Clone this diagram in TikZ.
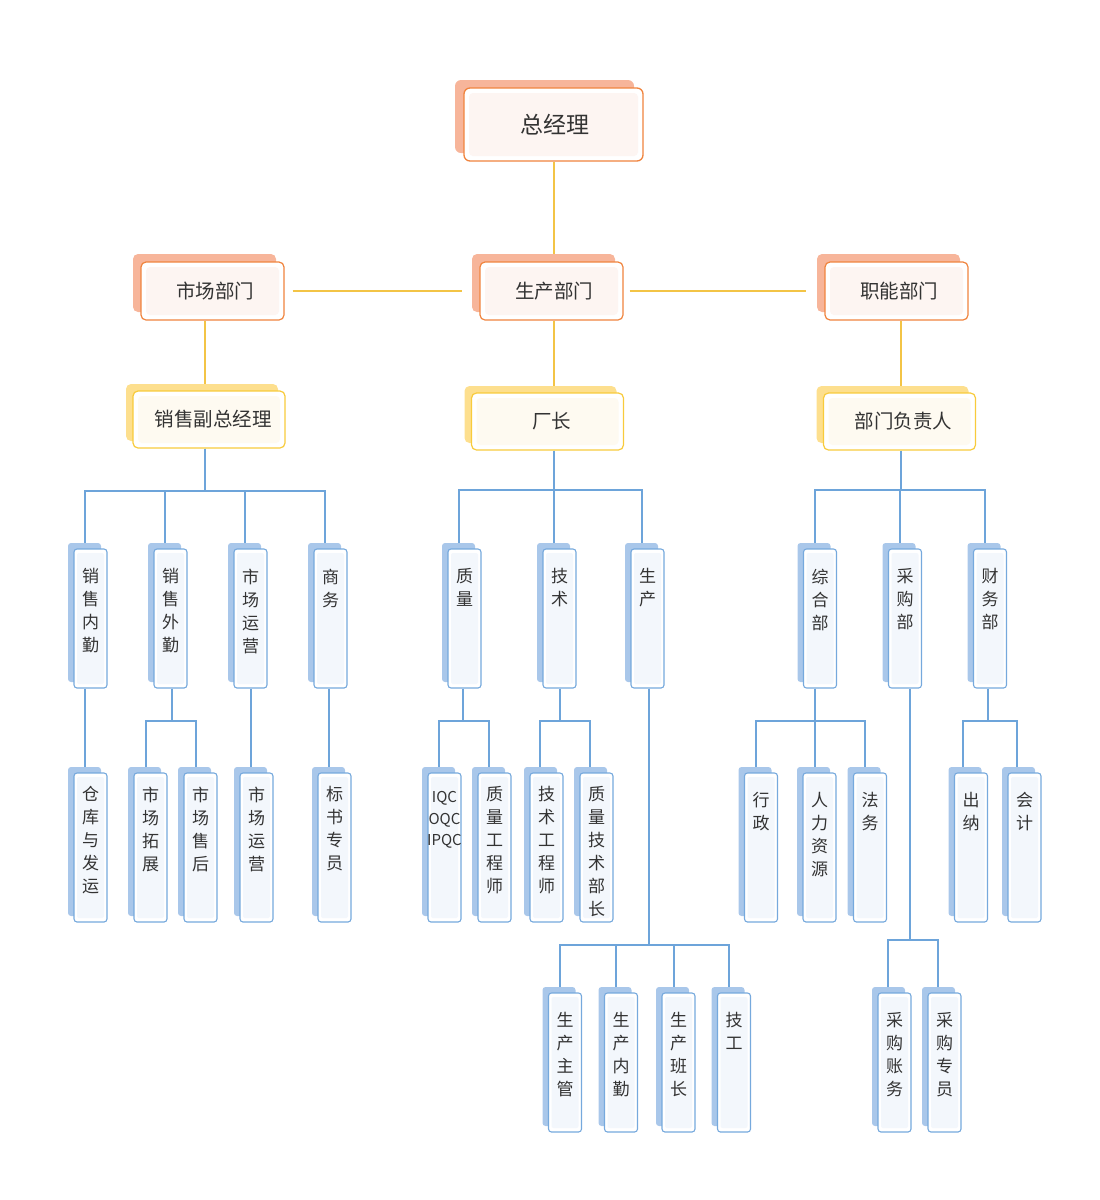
\documentclass[tikz,border=0pt]{standalone}
\usepackage{fontspec}
\setmainfont{Noto Sans CJK SC}
\usepackage{tikz}
\usetikzlibrary{shadows, positioning}
\usepackage{xcolor}

\definecolor{oline}{HTML}{F0843E}
\definecolor{oshade}{HTML}{F7B59A}
\definecolor{ofill}{HTML}{FDF5F2}
\definecolor{yline}{HTML}{F8CB3C}
\definecolor{yshade}{HTML}{FDDF8E}
\definecolor{yfill}{HTML}{FEFAF1}
\definecolor{bline}{HTML}{76A9DD}
\definecolor{bshade}{HTML}{A9C7EA}
\definecolor{bfill}{HTML}{F3F7FC}
\definecolor{goldcon}{HTML}{F3C446}
\definecolor{bluecon}{HTML}{6DA4DA}
\definecolor{txt}{HTML}{333333}

\pgfdeclarelayer{background}
\pgfsetlayers{background,main}

\begin{document}
\begin{tikzpicture}[x=1pt,y=-1pt]
    \tikzstyle{boss}=[shape=rectangle,rounded corners=6pt,draw=oline,line width=1.3pt,fill=white,
        minimum width=179pt,minimum height=73pt,text=txt,font=\fontsize{23pt}{28pt}\selectfont,
        execute at begin node=\hspace*{3pt},
        drop shadow={shadow xshift=-9pt,shadow yshift=8pt,fill=oshade,opacity=1},
        path picture={\fill[ofill,rounded corners=4pt] ([xshift=5pt,yshift=-5pt]path picture bounding box.north west) rectangle ([xshift=-5pt,yshift=5pt]path picture bounding box.south east);}]
    \tikzstyle{dept}=[shape=rectangle,rounded corners=5pt,draw=oline,line width=1.2pt,fill=white,
        minimum width=143pt,minimum height=58pt,text=txt,font=\fontsize{19.5pt}{24pt}\selectfont,
        execute at begin node=\hspace*{5pt},
        drop shadow={shadow xshift=-8pt,shadow yshift=8pt,fill=oshade,opacity=1},
        path picture={\fill[ofill,rounded corners=4pt] ([xshift=5pt,yshift=-5pt]path picture bounding box.north west) rectangle ([xshift=-5pt,yshift=5pt]path picture bounding box.south east);}]
    \tikzstyle{head}=[shape=rectangle,rounded corners=5pt,draw=yline,line width=1.2pt,fill=white,
        minimum width=152pt,minimum height=57pt,text=txt,font=\fontsize{19.5pt}{24pt}\selectfont,
        execute at begin node=\hspace*{8pt},
        drop shadow={shadow xshift=-7pt,shadow yshift=7pt,fill=yshade,opacity=1},
        path picture={\fill[yfill,rounded corners=4pt] ([xshift=5pt,yshift=-5pt]path picture bounding box.north west) rectangle ([xshift=-5pt,yshift=5pt]path picture bounding box.south east);}]
    \tikzstyle{leaf}=[shape=rectangle,rounded corners=3pt,draw=bline,line width=1.1pt,fill=white,
        minimum width=33pt,inner sep=0pt,
        drop shadow={shadow xshift=-6pt,shadow yshift=6pt,fill=bshade,opacity=1},
        path picture={\fill[bfill,rounded corners=2pt] ([xshift=3pt,yshift=-4pt]path picture bounding box.north west) rectangle ([xshift=-3pt,yshift=4pt]path picture bounding box.south east);}]
    \tikzstyle{vlab}=[anchor=north,inner sep=0pt,align=center,text=txt,font=\fontsize{17pt}{23pt}\selectfont]
    \tikzstyle{goldline}=[draw=goldcon,line width=1.5pt]
    \tikzstyle{blueline}=[draw=bluecon,line width=2pt]

    \path[use as bounding box] (0,0) rectangle (1100,1200);

    % top levels
    \node[boss] (gm) at (553.5,124.5) {总经理};
    \node[dept] (mkt) at (212.5,291) {市场部门};
    \node[dept] (prod) at (551.5,291) {生产部门};
    \node[dept] (func) at (896.5,291) {职能部门};
    \node[head] (sales) at (209,419.5) {销售副总经理};
    \node[head] (plant) at (547.5,421.5) {厂长};
    \node[head] (lead) at (899.5,421.5) {部门负责人};

    % departments
    \foreach \n/\x/\lbl in {a1/90.5/销\\售\\内\\勤, a2/170.5/销\\售\\外\\勤, a3/250.5/市\\场\\运\\营,
        a4/330.5/商\\务, b1/464.5/质\\量, b2/559.5/技\\术, b3/647.5/生\\产,
        c1/820/综\\合\\部, c2/905/采\\购\\部, c3/990/财\\务\\部}
    {
        \node[leaf, minimum height=139pt] (\n) at (\x,618.5) {};
        \node[vlab] (\n-t) at ([yshift=-20pt]\n.north) {\lbl};
    }

    % posts
    \foreach \n/\x/\lbl in {d1/90.5/仓\\库\\与\\发\\运, d2/150.5/市\\场\\拓\\展, d3/200.5/市\\场\\售\\后,
        d4/256.5/市\\场\\运\\营, d5/334.5/标\\书\\专\\员, e2/494.5/质\\量\\工\\程\\师,
        e3/546.5/技\\术\\工\\程\\师, e4/596.5/质\\量\\技\\术\\部\\长}
    {
        \node[leaf, minimum height=149pt] (\n) at (\x,847.5) {};
        \node[vlab] (\n-t) at ([yshift=-14pt]\n.north) {\lbl};
    }
    \node[leaf, minimum height=149pt] (e1) at (444.5,847.5) {};
    \node[vlab, font=\fontsize{15pt}{21.5pt}\selectfont] (e1-t) at ([yshift=-19pt]e1.north) {IQC\\OQC\\IPQC};
    \foreach \n/\x/\lbl in {f1/761/行\\政, f2/819.5/人\\力\\资\\源, f3/870/法\\务, f4/971/出\\纳, f5/1024.5/会\\计}
    {
        \node[leaf, minimum height=149pt] (\n) at (\x,847.5) {};
        \node[vlab] (\n-t) at ([yshift=-20pt]\n.north) {\lbl};
    }
    \foreach \n/\x/\lbl in {g1/565/生\\产\\主\\管, g2/621/生\\产\\内\\勤, g3/678.5/生\\产\\班\\长, g4/734/技\\工,
        h1/894.5/采\\购\\账\\务, h2/944.5/采\\购\\专\\员}
    {
        \node[leaf, minimum height=139pt] (\n) at (\x,1062.5) {};
        \node[vlab] (\n-t) at ([yshift=-20pt]\n.north) {\lbl};
    }

    \begin{pgfonlayer}{background}
        \draw[goldline] ([xshift=0.5pt]gm.south) -- ([xshift=0.5pt]gm.south |- prod.north);
        \draw[goldline] ([xshift=8pt]mkt.east) -- ([xshift=-17pt]prod.west);
        \draw[goldline] ([xshift=6pt]prod.east) -- ([xshift=-18pt]func.west);
        \draw[goldline] ([xshift=-7.5pt]mkt.south) -- ([xshift=-7.5pt]mkt.south |- sales.north);
        \draw[goldline] ([xshift=2.5pt]prod.south) -- ([xshift=2.5pt]prod.south |- plant.north);
        \draw[goldline] ([xshift=4.5pt]func.south) -- ([xshift=4.5pt]func.south |- lead.north);

        \foreach \c in {a1,a2,a3,a4}
            \draw[blueline] ([xshift=-4pt]sales.south) -- ++(0,42) -| ([xshift=-6pt]\c.north);
        \foreach \c in {b1,b2,b3}
            \draw[blueline] ([xshift=6.5pt]plant.south) -- ++(0,39) -| ([xshift=-6pt]\c.north);
        \foreach \c in {c1,c2,c3}
            \draw[blueline] ([xshift=1.5pt]lead.south) -- ++(0,39) -| ([xshift=-5pt]\c.north);

        \draw[blueline] ([xshift=-6pt]a1.south) -- ([xshift=-6pt]d1.north);
        \foreach \c in {d2,d3}
            \draw[blueline] ([xshift=1.5pt]a2.south) -- ++(0,32) -| ([xshift=-5pt]\c.north);
        \draw[blueline] ([xshift=-6pt]d4.north |- a3.south) -- ([xshift=-6pt]d4.north);
        \draw[blueline] ([xshift=-6pt]d5.north |- a4.south) -- ([xshift=-6pt]d5.north);
        \foreach \c in {e1,e2}
            \draw[blueline] ([xshift=-1.5pt]b1.south) -- ++(0,32) -| ([xshift=-6pt]\c.north);
        \foreach \c in {e3,e4}
            \draw[blueline] (b2.south) -- ++(0,32) -| ([xshift=-7pt]\c.north);
        \foreach \c in {g1,g2,g3,g4}
            \draw[blueline] ([xshift=1.5pt]b3.south) -- ++(0,256) -| ([xshift=-5pt]\c.north);
        \foreach \c in {f1,f2,f3}
            \draw[blueline] ([xshift=-5pt]c1.south) -- ++(0,32) -| ([xshift=-5pt]\c.north);
        \foreach \c in {h1,h2}
            \draw[blueline] ([xshift=5pt]c2.south) -- ++(0,251) -| ([xshift=-7pt]\c.north);
        \foreach \c in {f4,f5}
            \draw[blueline] ([xshift=-2pt]c3.south) -- ++(0,32) -| ([xshift=-8pt]\c.north);
    \end{pgfonlayer}
\end{tikzpicture}
\end{document}
